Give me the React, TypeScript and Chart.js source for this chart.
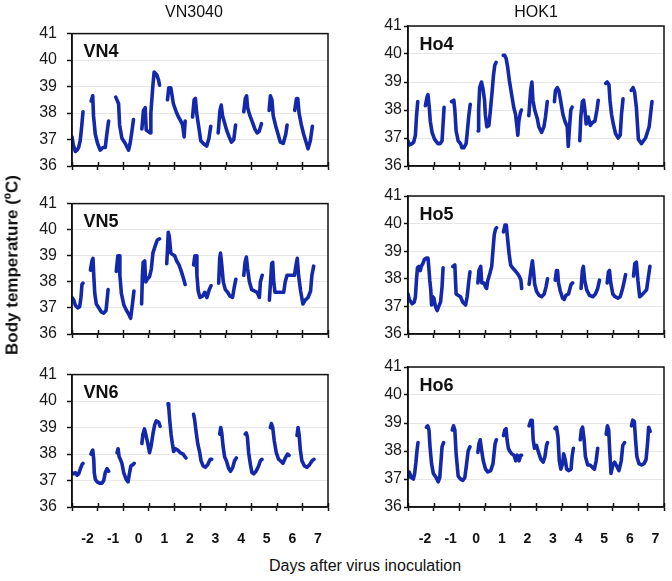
import { useEffect, useRef } from 'react';
import { Chart, registerables } from 'chart.js';

Chart.register(...registerables);

type Pt = [number, number];

// Axis ticks / labels
const dayLabels = ['-2', '-1', '0', '1', '2', '3', '4', '5', '6', '7'];
const xTickValues = [-2.5, -1.5, -0.5, 0.5, 1.5, 2.5, 3.5, 4.5, 5.5, 6.5, 7.5];
const tempMin = 36;
const tempMax = 41;

// Body temperature series (x = days after inoculation, y = °C), one array per recording segment
const vn4: Pt[][] = [
  [[-2.5, 37.1], [-2.45, 36.8], [-2.37, 36.55], [-2.3, 36.6], [-2.24, 36.7], [-2.18, 36.95], [-2.12, 37.5], [-2.07, 38.05]],
  [[-1.75, 38.45], [-1.69, 38.65], [-1.66, 37.9], [-1.59, 37.2], [-1.5, 36.85], [-1.4, 36.6], [-1.29, 36.7], [-1.2, 36.7], [-1.14, 37.2], [-1.07, 37.7]],
  [[-0.79, 38.6], [-0.68, 38.35], [-0.64, 37.55], [-0.55, 37.05], [-0.42, 36.85], [-0.29, 36.6], [-0.23, 36.85], [-0.16, 37.3], [-0.1, 37.75]],
  [[0.23, 37.4], [0.29, 38.1], [0.36, 38.2], [0.4, 37.35], [0.49, 37.3], [0.55, 37.25], [0.58, 38.0], [0.66, 39.05], [0.71, 39.55], [0.81, 39.45], [0.88, 39.25], [0.92, 39.05]],
  [[1.23, 38.5], [1.28, 38.95], [1.36, 38.95], [1.41, 38.65], [1.46, 38.35], [1.57, 38.05], [1.66, 37.85], [1.75, 37.7], [1.82, 37.55], [1.88, 37.1], [1.92, 37.7]],
  [[2.21, 37.85], [2.27, 38.5], [2.32, 38.55], [2.37, 38.0], [2.44, 37.55], [2.53, 36.95], [2.63, 36.85], [2.76, 36.75], [2.85, 37.05], [2.92, 37.5]],
  [[3.21, 37.25], [3.28, 38.1], [3.33, 38.3], [3.38, 37.9], [3.47, 37.6], [3.54, 37.35], [3.64, 37.1], [3.73, 36.9], [3.82, 37.0], [3.89, 37.55]],
  [[4.21, 38.05], [4.27, 38.55], [4.32, 38.65], [4.36, 38.2], [4.45, 37.9], [4.55, 37.65], [4.64, 37.4], [4.73, 37.25], [4.81, 37.3], [4.9, 37.6]],
  [[5.2, 38.1], [5.25, 38.65], [5.31, 38.5], [5.36, 37.9], [5.46, 37.5], [5.55, 37.2], [5.64, 36.9], [5.75, 36.85], [5.85, 37.2], [5.9, 37.55]],
  [[6.2, 38.1], [6.27, 38.55], [6.32, 38.55], [6.37, 38.0], [6.46, 37.55], [6.55, 37.2], [6.66, 36.85], [6.72, 36.65], [6.81, 36.95], [6.89, 37.5]],
];

const ho4: Pt[][] = [
  [[-2.5, 36.9], [-2.45, 36.75], [-2.34, 36.8], [-2.28, 36.85], [-2.21, 37.1], [-2.17, 37.75], [-2.12, 38.3]],
  [[-1.82, 38.15], [-1.76, 38.45], [-1.72, 38.55], [-1.67, 38.1], [-1.63, 37.6], [-1.56, 37.2], [-1.46, 36.95], [-1.33, 36.8], [-1.24, 36.8], [-1.17, 36.9], [-1.13, 37.5], [-1.09, 38.1]],
  [[-0.8, 38.3], [-0.71, 38.35], [-0.67, 38.0], [-0.62, 37.25], [-0.54, 36.9], [-0.45, 36.8], [-0.39, 36.65], [-0.32, 36.65], [-0.23, 36.8], [-0.19, 37.15], [-0.13, 37.75], [-0.07, 38.2]],
  [[0.24, 37.25], [0.26, 38.0], [0.3, 38.8], [0.37, 39.0], [0.43, 38.75], [0.49, 38.35], [0.52, 37.85], [0.58, 37.4], [0.66, 37.45], [0.72, 38.0], [0.79, 38.7], [0.84, 39.25], [0.89, 39.6], [0.94, 39.7]],
  [[1.22, 39.95], [1.28, 39.95], [1.33, 39.85], [1.39, 39.55], [1.46, 39.05], [1.54, 38.6], [1.63, 38.1], [1.7, 37.85], [1.75, 37.45], [1.79, 37.1], [1.83, 37.6], [1.89, 37.9], [1.93, 38.0]],
  [[2.22, 37.8], [2.29, 38.7], [2.34, 39.0], [2.38, 38.35], [2.45, 38.0], [2.55, 37.7], [2.61, 37.4], [2.72, 37.2], [2.81, 37.4], [2.87, 37.75], [2.94, 38.3]],
  [[3.22, 38.3], [3.26, 38.7], [3.33, 38.8], [3.39, 38.7], [3.46, 38.35], [3.55, 37.85], [3.63, 37.6], [3.72, 37.4], [3.76, 36.7], [3.81, 37.4], [3.86, 38.0], [3.91, 38.1]],
  [[4.21, 36.9], [4.25, 37.75], [4.31, 38.3], [4.36, 38.35], [4.41, 38.0], [4.46, 37.5], [4.54, 37.75], [4.62, 37.45], [4.7, 37.55], [4.8, 37.6], [4.88, 38.0], [4.93, 38.35]],
  [[5.22, 38.95], [5.28, 39.0], [5.35, 38.9], [5.39, 38.35], [5.45, 37.85], [5.52, 37.5], [5.61, 37.15], [5.71, 37.0], [5.79, 37.1], [5.84, 37.85], [5.9, 38.4]],
  [[6.22, 38.7], [6.29, 38.8], [6.35, 38.65], [6.42, 38.1], [6.5, 36.95], [6.62, 36.8], [6.78, 37.0], [6.92, 37.4], [7.03, 38.3]],
];

const vn5: Pt[][] = [
  [[-2.5, 37.4], [-2.43, 37.3], [-2.37, 37.1], [-2.28, 37.0], [-2.2, 37.05], [-2.15, 37.4], [-2.11, 37.9], [-2.07, 37.95]],
  [[-1.78, 38.45], [-1.72, 38.8], [-1.68, 38.9], [-1.65, 38.25], [-1.61, 37.55], [-1.55, 37.15], [-1.45, 37.0], [-1.36, 36.85], [-1.26, 36.8], [-1.17, 36.9], [-1.13, 37.3], [-1.09, 37.7]],
  [[-0.77, 38.4], [-0.71, 39.0], [-0.66, 39.0], [-0.63, 38.25], [-0.57, 37.55], [-0.47, 37.1], [-0.37, 36.9], [-0.28, 36.75], [-0.21, 36.6], [-0.15, 37.05], [-0.08, 37.65]],
  [[0.22, 37.15], [0.25, 38.25], [0.28, 38.75], [0.34, 38.8], [0.38, 38.0], [0.44, 38.1], [0.53, 38.2], [0.6, 38.5], [0.66, 39.1], [0.74, 39.35], [0.83, 39.6], [0.92, 39.65]],
  [[1.2, 38.7], [1.23, 39.25], [1.26, 39.9], [1.3, 39.75], [1.36, 39.1], [1.43, 39.05], [1.51, 39.0], [1.59, 38.8], [1.68, 38.65], [1.77, 38.4], [1.85, 38.15], [1.92, 37.9]],
  [[2.25, 38.65], [2.3, 39.0], [2.35, 39.0], [2.38, 38.25], [2.43, 37.65], [2.5, 37.4], [2.6, 37.45], [2.69, 37.6], [2.77, 37.4], [2.86, 37.7], [2.93, 37.85]],
  [[3.23, 37.95], [3.27, 38.9], [3.3, 39.1], [3.34, 38.75], [3.41, 38.0], [3.49, 37.7], [3.58, 37.6], [3.67, 37.45], [3.77, 37.4], [3.84, 37.8], [3.9, 38.1]],
  [[4.21, 38.25], [4.26, 38.75], [4.31, 38.95], [4.36, 38.5], [4.43, 38.0], [4.52, 37.7], [4.62, 37.65], [4.73, 37.6], [4.82, 37.4], [4.86, 38.0], [4.93, 38.25]],
  [[5.21, 37.3], [5.25, 37.9], [5.3, 38.7], [5.34, 38.75], [5.38, 38.0], [5.43, 37.6], [5.54, 37.6], [5.67, 37.6], [5.77, 37.6], [5.83, 38.0], [5.9, 38.25], [6.06, 38.25], [6.19, 38.25], [6.26, 38.7], [6.3, 38.9], [6.35, 38.25], [6.43, 37.65], [6.52, 37.15], [6.61, 37.3], [6.72, 37.4], [6.82, 37.65], [6.87, 38.25], [6.94, 38.6]],
];

const ho5: Pt[][] = [
  [[-2.5, 37.45], [-2.45, 37.25], [-2.34, 37.1], [-2.26, 37.15], [-2.21, 37.35], [-2.17, 37.95], [-2.13, 38.4], [-2.08, 38.45], [-2.02, 38.3], [-1.98, 38.45], [-1.92, 38.55], [-1.86, 38.7], [-1.79, 38.75], [-1.72, 38.75], [-1.69, 38.45], [-1.65, 37.95], [-1.61, 37.6], [-1.58, 37.05], [-1.53, 37.35], [-1.49, 37.3], [-1.43, 37.0], [-1.36, 36.85], [-1.3, 37.0], [-1.23, 37.15], [-1.17, 37.7], [-1.13, 38.4]],
  [[-0.75, 38.45], [-0.67, 38.5], [-0.64, 37.85], [-0.62, 37.45], [-0.54, 37.4], [-0.45, 37.35], [-0.36, 37.15], [-0.25, 37.05], [-0.19, 37.35], [-0.12, 37.95], [-0.08, 38.25]],
  [[0.23, 37.85], [0.27, 38.3], [0.34, 38.45], [0.38, 37.85], [0.47, 37.85], [0.53, 37.7], [0.57, 37.65], [0.62, 37.95], [0.7, 38.2], [0.77, 38.45], [0.82, 39.05], [0.87, 39.6], [0.92, 39.8], [0.96, 39.85]],
  [[1.23, 39.7], [1.29, 39.95], [1.34, 39.95], [1.38, 39.55], [1.45, 38.9], [1.51, 38.5], [1.58, 38.4], [1.68, 38.3], [1.77, 38.2], [1.84, 38.1], [1.91, 37.95], [1.94, 37.65]],
  [[2.23, 37.8], [2.3, 38.3], [2.36, 38.65], [2.4, 38.3], [2.45, 37.8], [2.52, 37.55], [2.62, 37.4], [2.72, 37.35], [2.82, 37.45], [2.89, 37.7], [2.95, 38.0]],
  [[3.25, 37.95], [3.3, 38.3], [3.34, 38.3], [3.38, 37.85], [3.45, 37.55], [3.54, 37.3], [3.6, 37.25], [3.67, 37.4], [3.77, 37.45], [3.87, 37.8], [3.93, 37.85]],
  [[4.26, 37.65], [4.31, 38.3], [4.35, 38.45], [4.4, 37.95], [4.48, 37.6], [4.59, 37.4], [4.72, 37.35], [4.82, 37.45], [4.91, 37.65], [4.98, 37.95]],
  [[5.28, 37.85], [5.33, 38.25], [5.37, 38.3], [5.42, 37.85], [5.5, 37.45], [5.59, 37.35], [5.7, 37.3], [5.79, 37.35], [5.87, 37.6], [5.92, 37.8], [6.0, 38.15]],
  [[6.31, 38.1], [6.36, 38.55], [6.42, 38.6], [6.48, 37.95], [6.55, 37.35], [6.62, 37.4], [6.72, 37.5], [6.82, 37.6], [6.88, 38.0], [6.95, 38.45]],
];

const vn6: Pt[][] = [
  [[-2.5, 37.3], [-2.43, 37.25], [-2.37, 37.3], [-2.3, 37.2], [-2.24, 37.25], [-2.17, 37.45], [-2.11, 37.6], [-2.07, 37.65]],
  [[-1.76, 38.0], [-1.72, 38.1], [-1.69, 38.15], [-1.65, 37.8], [-1.63, 37.3], [-1.59, 37.05], [-1.52, 36.95], [-1.43, 36.9], [-1.33, 36.9], [-1.26, 37.0], [-1.2, 37.3], [-1.13, 37.45], [-1.07, 37.35]],
  [[-0.74, 38.05], [-0.7, 38.2], [-0.66, 37.9], [-0.61, 37.8], [-0.55, 37.65], [-0.48, 37.3], [-0.39, 37.05], [-0.31, 36.95], [-0.25, 37.3], [-0.2, 37.55], [-0.12, 37.6], [-0.07, 37.65]],
  [[0.23, 38.4], [0.27, 38.75], [0.33, 38.95], [0.38, 38.75], [0.46, 38.4], [0.53, 38.05], [0.59, 38.3], [0.66, 38.75], [0.73, 39.1], [0.79, 39.25], [0.89, 39.2], [0.94, 39.05]],
  [[1.25, 39.9], [1.28, 39.75], [1.32, 39.25], [1.37, 38.75], [1.42, 38.4], [1.47, 38.1], [1.54, 38.2], [1.63, 38.15], [1.73, 38.05], [1.84, 38.0], [1.91, 37.9], [1.95, 37.85]],
  [[2.25, 39.5], [2.29, 39.3], [2.34, 38.9], [2.41, 38.4], [2.49, 38.05], [2.54, 37.75], [2.62, 37.55], [2.71, 37.5], [2.8, 37.6], [2.9, 37.8], [2.96, 37.8]],
  [[3.27, 38.75], [3.31, 39.0], [3.35, 38.8], [3.4, 38.3], [3.46, 37.9], [3.53, 37.75], [3.62, 37.45], [3.69, 37.35], [3.78, 37.5], [3.85, 37.75], [3.92, 37.85]],
  [[4.27, 38.75], [4.31, 38.8], [4.35, 38.65], [4.4, 38.05], [4.47, 37.6], [4.53, 37.3], [4.6, 37.25], [4.69, 37.35], [4.79, 37.55], [4.86, 37.75], [4.92, 37.8]],
  [[5.25, 39.0], [5.29, 39.15], [5.34, 39.0], [5.4, 38.5], [5.48, 38.05], [5.57, 37.8], [5.64, 37.75], [5.74, 37.65], [5.83, 37.85], [5.92, 38.0], [5.98, 37.95]],
  [[6.29, 38.7], [6.33, 39.0], [6.37, 38.75], [6.42, 38.15], [6.48, 37.75], [6.58, 37.55], [6.68, 37.5], [6.78, 37.6], [6.88, 37.75], [6.95, 37.8]],
];

const ho6: Pt[][] = [
  [[-2.5, 37.05], [-2.45, 37.25], [-2.37, 37.05], [-2.29, 37.0], [-2.24, 37.2], [-2.19, 37.6], [-2.15, 38.0], [-2.11, 38.3]],
  [[-1.78, 38.85], [-1.73, 38.9], [-1.68, 38.75], [-1.64, 38.15], [-1.58, 37.55], [-1.51, 37.2], [-1.4, 37.05], [-1.32, 36.9], [-1.26, 37.05], [-1.21, 37.65], [-1.17, 38.15], [-1.11, 38.3]],
  [[-0.77, 38.75], [-0.72, 38.9], [-0.67, 38.75], [-0.62, 37.9], [-0.54, 37.1], [-0.45, 37.0], [-0.36, 36.95], [-0.28, 37.05], [-0.23, 37.4], [-0.15, 38.0], [-0.08, 38.15]],
  [[0.23, 37.95], [0.27, 38.25], [0.32, 38.4], [0.38, 38.0], [0.44, 37.65], [0.53, 37.35], [0.62, 37.25], [0.73, 37.3], [0.82, 37.55], [0.9, 38.25], [0.95, 38.4]],
  [[1.23, 38.55], [1.28, 38.75], [1.33, 38.8], [1.37, 38.4], [1.42, 38.1], [1.47, 38.0], [1.55, 37.9], [1.64, 37.85], [1.71, 37.65], [1.77, 37.85], [1.84, 37.65], [1.9, 37.85], [1.94, 37.85]],
  [[2.23, 38.9], [2.3, 39.1], [2.35, 39.1], [2.39, 38.4], [2.44, 38.1], [2.52, 38.2], [2.6, 37.95], [2.69, 37.7], [2.78, 37.6], [2.85, 37.8], [2.91, 38.2], [2.95, 38.3]],
  [[3.24, 38.8], [3.3, 38.85], [3.36, 38.5], [3.41, 37.65], [3.47, 37.35], [3.54, 37.55], [3.58, 37.9], [3.64, 37.7], [3.7, 37.35], [3.77, 37.3], [3.87, 37.35], [3.91, 37.8], [3.96, 38.1]],
  [[4.23, 38.4], [4.27, 38.75], [4.32, 38.85], [4.38, 38.4], [4.43, 37.8], [4.52, 37.5], [4.61, 37.5], [4.72, 37.4], [4.78, 37.35], [4.85, 37.65], [4.91, 38.1]],
  [[5.24, 38.6], [5.29, 38.9], [5.34, 38.75], [5.38, 38.0], [5.43, 37.2], [5.5, 37.5], [5.57, 37.6], [5.63, 37.5], [5.74, 37.3], [5.83, 37.65], [5.89, 38.2], [5.96, 38.3]],
  [[6.23, 38.9], [6.28, 39.1], [6.34, 39.05], [6.39, 38.4], [6.44, 37.8], [6.52, 37.55], [6.62, 37.5], [6.72, 37.55], [6.8, 37.7], [6.86, 38.3], [6.9, 38.85], [6.96, 38.7]],
];

const FONT = '"Liberation Sans", Arial, Helvetica, sans-serif';
const LINE_COLOR = '#1428ab';
const INK = '#111111';

interface PanelDef {
  name: string;
  segments: Pt[][];
  col: number;
  row: number;
}

const panels: PanelDef[] = [
  { name: 'VN4', segments: vn4, col: 0, row: 0 },
  { name: 'Ho4', segments: ho4, col: 1, row: 0 },
  { name: 'VN5', segments: vn5, col: 0, row: 1 },
  { name: 'Ho5', segments: ho5, col: 1, row: 1 },
  { name: 'VN6', segments: vn6, col: 0, row: 2 },
  { name: 'Ho6', segments: ho6, col: 1, row: 2 },
];

// layout (pixels)
const colLeft = [72, 408];
const plotW = 256;
const rowTop = [26, 196, 367];
const rowH = [140, 138, 140];
const Y_AXIS_W = 60;
const PAD_TOP = 12;
const PAD_RIGHT = 8;
const X_AXIS_H = 44;

function buildData(segments: Pt[][]) {
  const out: { x: number; y: number | null }[] = [];
  segments.forEach((seg) => {
    seg.forEach(([x, y]) => out.push({ x, y }));
    const last = seg[seg.length - 1];
    out.push({ x: last[0] + 0.005, y: null });
  });
  return out;
}

function Panel({ def }: { def: PanelDef }) {
  const ref = useRef<HTMLCanvasElement | null>(null);
  const w = Y_AXIS_W + plotW + PAD_RIGHT;
  const h = PAD_TOP + rowH[def.row] + X_AXIS_H;
  const left = colLeft[def.col] - Y_AXIS_W;
  const top = rowTop[def.row] - PAD_TOP;

  useEffect(() => {
    if (!ref.current) return;
    const isBottom = def.row === 2;
    const frame = {
      id: 'frame' + def.name,
      afterDatasetsDraw(chart: any) {
        const { ctx, chartArea: a, scales } = chart;
        ctx.save();
        ctx.strokeStyle = INK;
        ctx.lineWidth = 1.5;
        ctx.strokeRect(a.left, a.top, a.right - a.left, a.bottom - a.top);
        // inner half of cross tick marks on the x axis
        scales.x.ticks.forEach((t: any) => {
          const px = Math.round(scales.x.getPixelForValue(t.value)) + 0.5;
          ctx.beginPath();
          ctx.moveTo(px, a.bottom);
          ctx.lineTo(px, a.bottom - 4);
          ctx.stroke();
        });
        ctx.font = `bold 18px ${FONT}`;
        ctx.fillStyle = INK;
        ctx.textBaseline = 'alphabetic';
        ctx.textAlign = 'left';
        ctx.fillText(def.name, a.left + 11.5, a.top + 23.5);
        ctx.restore();
      },
    };

    const chart = new Chart(ref.current, {
      type: 'line',
      data: {
        datasets: [
          {
            data: buildData(def.segments) as any,
            borderColor: LINE_COLOR,
            borderWidth: 3.6,
            pointRadius: 0,
            tension: 0,
            spanGaps: false,
            borderJoinStyle: 'round',
            borderCapStyle: 'round',
          },
        ],
      },
      options: {
        animation: false,
        responsive: false,
        events: [],
        layout: { padding: { top: PAD_TOP, right: PAD_RIGHT, left: 0, bottom: 0 } },
        plugins: { legend: { display: false }, tooltip: { enabled: false } },
        scales: {
          x: {
            type: 'linear',
            min: -2.5,
            max: 7.5,
            afterBuildTicks: (s: any) => {
              s.ticks = xTickValues.map((v) => ({ value: v }));
            },
            afterFit: (s: any) => {
              s.height = X_AXIS_H;
              s.paddingLeft = 0;
              s.paddingRight = 0;
            },
            ticks: {
              display: isBottom,
              autoSkip: false,
              maxRotation: 0,
              labelOffset: def.col === 0 ? 15.5 : 17,
              padding: 20,
              color: INK,
              font: { family: FONT, size: 14, weight: 'bold' },
              callback: (_v: any, i: number) => dayLabels[i] ?? '',
            },
            grid: {
              display: true,
              drawOnChartArea: false,
              drawTicks: true,
              tickLength: 4,
              tickColor: INK,
              tickWidth: 1.5,
              color: INK,
            },
            border: { color: INK, width: 1.5 },
          },
          y: {
            type: 'linear',
            min: tempMin,
            max: tempMax,
            afterFit: (s: any) => {
              s.width = Y_AXIS_W;
            },
            ticks: {
              stepSize: 1,
              padding: def.col === 0 ? 10 : 2,
              color: '#1a1a1a',
              font: { family: FONT, size: 16 },
            },
            grid: {
              color: '#e7e7e7',
              lineWidth: 1,
              drawTicks: true,
              tickLength: def.col === 0 ? 5 : 4,
              tickColor: INK,
              tickWidth: 1.5,
            },
            border: { color: INK, width: 1.5 },
          },
        },
      },
      plugins: [frame],
    });
    return () => chart.destroy();
  }, [def]);

  return (
    <canvas
      ref={ref}
      width={w}
      height={h}
      style={{ position: 'absolute', left, top, width: w, height: h }}
    />
  );
}

const textBase: React.CSSProperties = {
  position: 'absolute',
  fontFamily: FONT,
  color: INK,
  whiteSpace: 'nowrap',
  lineHeight: 1,
};

export default function App() {
  return (
    <div
      style={{
        position: 'absolute',
        left: 0,
        top: 0,
        width: 672,
        height: 581,
        background: '#fff',
        overflow: 'hidden',
      }}
    >
      {panels.map((p) => (
        <Panel key={p.name} def={p} />
      ))}
      <div style={{ ...textBase, fontSize: 16, left: 194, top: 12, transform: 'translate(-50%, -50%)' }}>VN3040</div>
      <div style={{ ...textBase, fontSize: 16, left: 536, top: 12, transform: 'translate(-50%, -50%)' }}>HOK1</div>
      <div
        style={{
          ...textBase,
          fontSize: 17,
          fontWeight: 'bold',
          left: 12,
          top: 265,
          transform: 'translate(-50%, -50%) rotate(-90deg)',
        }}
      >
        Body temperature (ºC)
      </div>
      <div style={{ ...textBase, fontSize: 16, left: 365, top: 566, transform: 'translate(-50%, -50%)' }}>
        Days after virus inoculation
      </div>
    </div>
  );
}
